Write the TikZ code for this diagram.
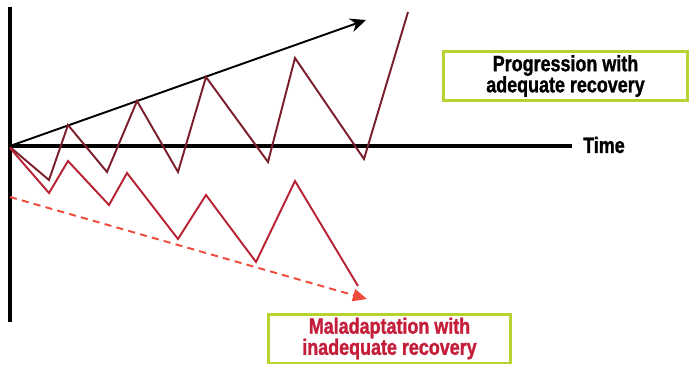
\documentclass[tikz,border=0pt]{standalone}
\usepackage{fontspec}
\setmainfont{Liberation Sans}
\newfontfamily\condfont{Liberation Sans}[FakeStretch=0.81, FakeBold=1.2]
\usepackage{tikz}
\usetikzlibrary{arrows.meta}
\definecolor{PROcolor}{HTML}{7A1E2C}
\definecolor{MALcolor}{HTML}{B82232}
\definecolor{TRDcolor}{HTML}{EF4A3C}
\definecolor{BOXcolor}{HTML}{B6D330}
\definecolor{TXTcolor}{HTML}{C41E3A}

\tikzset{
  axis/.style={line width=2.3pt, black},
  zigzag/.style={line width=1.1pt, line join=miter},
  legendbox/.style={draw=BOXcolor, line width=1.7pt, fill=white,
    font=\condfont\bfseries\fontsize{12.6}{12}\selectfont, align=center,
    minimum height=0.98cm, inner sep=0pt}
}

\begin{document}
\begin{tikzpicture}[x=0.02cm, y=-0.02cm]
  \useasboundingbox (0,0) rectangle (700,372);
  % axes
  \coordinate (origin) at (10,146);
  \coordinate (ytop) at (10,7);
  \coordinate (ybot) at (10,322);
  \coordinate (xend) at (572,146);
  \draw[axis] (ytop) -- (ybot);
  \draw[axis, line width=1.8pt] (origin) -- (xend);
  \node[anchor=west, font=\condfont\bfseries\fontsize{12.6}{14}\selectfont] (time) at (577,145) {Time};

  % trend lines
  \coordinate (uptip) at (366,20);
  \coordinate (downstart) at (10,197);
  \coordinate (downtip) at (367,299);
  \draw[line width=1.1pt, -{Stealth[length=9pt, width=8pt]}] (origin) -- (uptip);
  \draw[TRDcolor, line width=1.1pt, dash pattern=on 4pt off 3pt, -{Triangle[length=8pt, width=7pt]}] (downstart) -- (downtip);

  % progression with adequate recovery
  \draw[PROcolor, zigzag] (10,147) -- (49,180) -- (68,125) -- (107,172) -- (137,101)
    -- (178,172) -- (206,77) -- (268,162) -- (295,58) -- (364,159) -- (408,12);

  % maladaptation with inadequate recovery
  \draw[MALcolor, zigzag] (10,148) -- (49,193) -- (68,161) -- (109,205) -- (127,173)
    -- (178,239) -- (206,195) -- (256,262) -- (295,181) -- (358,286);

  % labels
  \node[legendbox, minimum width=4.9cm] (progress) at (565.5,76) {Progression with\\adequate recovery};
  \node[legendbox, minimum width=4.86cm, text=TXTcolor] (malad) at (389.5,338.5) {Maladaptation with\\inadequate recovery};
\end{tikzpicture}
\end{document}
